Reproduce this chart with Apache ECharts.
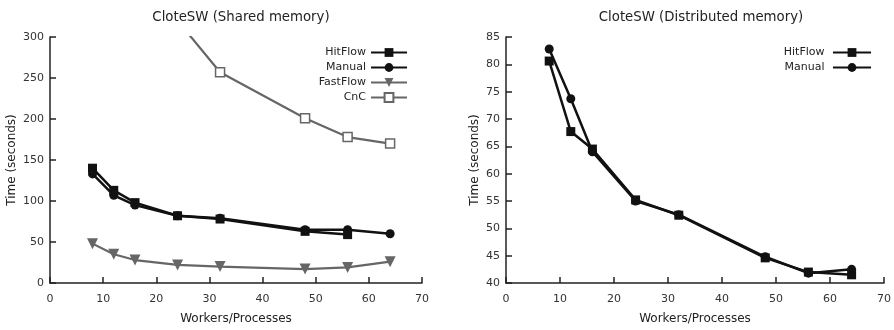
<!DOCTYPE html>
<html><head><meta charset="utf-8">
<script src="https://cdn.jsdelivr.net/npm/echarts@6/dist/echarts.min.js"></script>
<style>html,body{margin:0;padding:0;background:#fff}#c{width:894px;height:330px}</style>
</head><body><div id="c"></div>
<script>
const xShared = [8, 12, 16, 24, 32, 48, 56, 64];
const sharedHitFlow = [140, 113, 98, 82, 78, 63, 59, null];
const sharedManual = [133, 107, 95, 82, 79, 65, 65, 60];
const sharedFastFlow = [48, 35, 28, 22, 20, 17, 19, 26];
const sharedCnC = [null, null, null, 320, 257, 201, 178, 170];

const xDist = [8, 12, 16, 24, 32, 48, 56, 64];
const distHitFlow = [80.6, 67.7, 64.5, 55.2, 52.4, 44.6, 42.0, 41.5];
const distManual = [82.8, 73.7, 64.0, 55.0, 52.5, 44.8, 41.8, 42.5];

const titles = ['CloteSW (Shared memory)', 'CloteSW (Distributed memory)'];

const FONT = 'DejaVu Sans';
const pair = (xs, ys) => xs.map((x, i) => [x, ys[i]]);

function xAxis(gi) {
  return {
    type: 'value', gridIndex: gi, min: 0, max: 70, interval: 10,
    name: 'Workers/Processes', nameLocation: 'middle', nameGap: 30,
    nameTextStyle: { fontFamily: FONT, fontSize: 12, color: '#222' },
    axisLine: { show: true, lineStyle: { color: '#222', width: 1.5 } },
    axisTick: { show: true, inside: true, length: 6, lineStyle: { color: '#222', width: 1.5 } },
    axisLabel: { fontFamily: FONT, fontSize: 11, color: '#333', margin: 11, showMinLabel: true, showMaxLabel: true },
    splitLine: { show: false }
  };
}
function yAxis(gi, min, max, interval, gap) {
  return {
    type: 'value', gridIndex: gi, min, max, interval,
    name: 'Time (seconds)', nameLocation: 'middle', nameGap: gap,
    nameTextStyle: { fontFamily: FONT, fontSize: 12, color: '#222' },
    axisLine: { show: true, lineStyle: { color: '#222', width: 1.5 } },
    axisTick: { show: true, inside: true, length: 6, lineStyle: { color: '#222', width: 1.5 } },
    axisLabel: { fontFamily: FONT, fontSize: 11, color: '#333', margin: 6 },
    splitLine: { show: false }
  };
}
function line(name, data, gi, color, width, symbol, size, fill, rotate) {
  return {
    name, type: 'line', xAxisIndex: gi, yAxisIndex: gi, data, clip: true,
    symbol, symbolSize: size, symbolRotate: rotate || 0, showSymbol: true, connectNulls: false,
    lineStyle: { color, width },
    itemStyle: { color: fill || color, borderColor: color, borderWidth: fill ? 1.5 : 0 },
    animation: false
  };
}

const legendText = { fontFamily: FONT, fontSize: 11, color: '#222' };
const chart = echarts.init(document.getElementById('c'), null, { renderer: 'canvas' });
chart.setOption({
  animation: false,
  backgroundColor: '#fff',
  title: [
    { text: titles[0], left: 236, top: 6, textAlign: 'center', textStyle: { fontFamily: FONT, fontSize: 13.3, fontWeight: 'normal', color: '#222' } },
    { text: titles[1], left: 696, top: 6, textAlign: 'center', textStyle: { fontFamily: FONT, fontSize: 13.3, fontWeight: 'normal', color: '#222' } }
  ],
  grid: [
    { left: 50, right: 472, top: 37, bottom: 46 },
    { left: 506, right: 9, top: 37, bottom: 46 }
  ],
  legend: [
    { orient: 'vertical', right: 481, top: 42, align: 'right', itemWidth: 36, itemHeight: 11, itemGap: 4,
      textStyle: legendText, data: ['HitFlow', 'Manual', 'FastFlow', 'CnC'] },
    { orient: 'vertical', right: 17, top: 42, align: 'right', itemWidth: 38, itemHeight: 11, itemGap: 4,
      textStyle: legendText, data: ['HitFlow ', 'Manual '] }
  ],
  xAxis: [xAxis(0), xAxis(1)],
  yAxis: [yAxis(0, 0, 300, 50, 32), yAxis(1, 40, 85, 5, 25)],
  series: [
    line('HitFlow', pair(xShared, sharedHitFlow), 0, '#111', 2.5, 'rect', 9),
    line('Manual', pair(xShared, sharedManual), 0, '#111', 2.5, 'circle', 9),
    line('FastFlow', pair(xShared, sharedFastFlow), 0, '#666', 2.2, 'triangle', 11, null, 180),
    line('CnC', pair(xShared, sharedCnC), 0, '#666', 2.2, 'rect', 9, '#fff'),
    line('HitFlow ', pair(xDist, distHitFlow), 1, '#111', 2.5, 'rect', 9),
    line('Manual ', pair(xDist, distManual), 1, '#111', 2.5, 'circle', 9)
  ]
});
</script></body></html>
